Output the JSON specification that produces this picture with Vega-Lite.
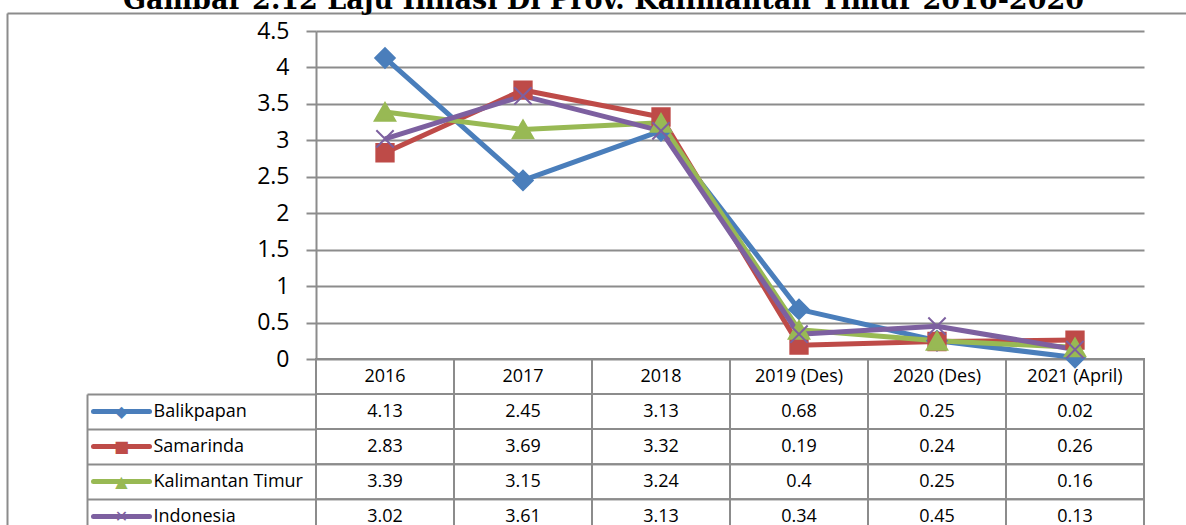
{
  "$schema": "https://vega.github.io/schema/vega-lite/v6.json",
  "width": 1200,
  "height": 533,
  "autosize": {"type": "none"},
  "padding": {"left": 7, "top": 13, "right": -21, "bottom": -21},
  "background": "white",
  "config": {"view": {"stroke": null}},
  "data": {"values": [
    {"series": "Balikpapan", "cat": "2016", "v": 4.13},
    {"series": "Balikpapan", "cat": "2017", "v": 2.45},
    {"series": "Balikpapan", "cat": "2018", "v": 3.13},
    {"series": "Balikpapan", "cat": "2019 (Des)", "v": 0.68},
    {"series": "Balikpapan", "cat": "2020 (Des)", "v": 0.25},
    {"series": "Balikpapan", "cat": "2021 (April)", "v": 0.02},
    {"series": "Samarinda", "cat": "2016", "v": 2.83},
    {"series": "Samarinda", "cat": "2017", "v": 3.69},
    {"series": "Samarinda", "cat": "2018", "v": 3.32},
    {"series": "Samarinda", "cat": "2019 (Des)", "v": 0.19},
    {"series": "Samarinda", "cat": "2020 (Des)", "v": 0.24},
    {"series": "Samarinda", "cat": "2021 (April)", "v": 0.26},
    {"series": "Kalimantan Timur", "cat": "2016", "v": 3.39},
    {"series": "Kalimantan Timur", "cat": "2017", "v": 3.15},
    {"series": "Kalimantan Timur", "cat": "2018", "v": 3.24},
    {"series": "Kalimantan Timur", "cat": "2019 (Des)", "v": 0.4},
    {"series": "Kalimantan Timur", "cat": "2020 (Des)", "v": 0.25},
    {"series": "Kalimantan Timur", "cat": "2021 (April)", "v": 0.16},
    {"series": "Indonesia", "cat": "2016", "v": 3.02},
    {"series": "Indonesia", "cat": "2017", "v": 3.61},
    {"series": "Indonesia", "cat": "2018", "v": 3.13},
    {"series": "Indonesia", "cat": "2019 (Des)", "v": 0.34},
    {"series": "Indonesia", "cat": "2020 (Des)", "v": 0.45},
    {"series": "Indonesia", "cat": "2021 (April)", "v": 0.13}
  ]},
  "layer": [
    {
      "transform": [{"filter": "datum.series === 'Balikpapan'"}],
      "mark": {"type": "rect", "fill": "transparent", "stroke": "#8c8c8c", "strokeWidth": 2},
      "encoding": {
        "x": {"field": "cat", "type": "nominal", "sort": null, "scale": {"type": "band", "domain": ["2016", "2017", "2018", "2019 (Des)", "2020 (Des)", "2021 (April)"], "range": [309, 1137], "paddingInner": 0, "paddingOuter": 0}, "axis": null},
        "y": {"datum": "h", "type": "nominal", "scale": {"type": "band", "domain": ["h"], "range": [346, 381], "paddingInner": 0, "paddingOuter": 0}, "axis": null}
      }
    },
    {
      "transform": [{"filter": "datum.series === 'Balikpapan'"}],
      "mark": {"type": "text", "font": "Open Sans", "fontSize": 18, "color": "#000000"},
      "encoding": {
        "x": {"field": "cat", "type": "nominal", "sort": null, "scale": {"type": "band", "domain": ["2016", "2017", "2018", "2019 (Des)", "2020 (Des)", "2021 (April)"], "range": [309, 1137], "paddingInner": 0, "paddingOuter": 0}, "axis": null},
        "y": {"datum": "h", "type": "nominal", "scale": {"type": "band", "domain": ["h"], "range": [0, 727], "paddingInner": 0, "paddingOuter": 0},
          "axis": {"orient": "left", "offset": 0, "grid": false, "domain": true, "domainColor": "#8c8c8c", "domainWidth": 2, "ticks": true, "tickBand": "extent", "tickSize": -1200, "tickColor": "#8c8c8c", "tickWidth": 2, "labels": false,
            "title": "Gambar 2.12 Laju Inflasi Di Prov. Kalimantan Timur 2016-2020", "titleFont": "DejaVu Serif", "titleFontSize": 27, "titleFontWeight": "bold", "titleColor": "#000000", "titleAngle": 0, "titleX": 596, "titleY": -5, "titleAlign": "center", "titleBaseline": "alphabetic", "titleAnchor": null, "titleLimit": 0}},
        "text": {"field": "cat", "type": "nominal"}
      }
    },
    {
      "mark": {"type": "rect", "fill": "transparent", "stroke": "#8c8c8c", "strokeWidth": 2},
      "encoding": {
        "x": {"field": "cat", "type": "nominal", "sort": null, "scale": {"type": "band", "domain": ["2016", "2017", "2018", "2019 (Des)", "2020 (Des)", "2021 (April)"], "range": [309, 1137], "paddingInner": 0, "paddingOuter": 0}, "axis": null},
        "y": {"field": "series", "type": "nominal", "sort": null, "scale": {"type": "band", "domain": ["Balikpapan", "Samarinda", "Kalimantan Timur", "Indonesia"], "range": [381, 521.4], "paddingInner": 0, "paddingOuter": 0},
          "axis": {"orient": "left", "offset": -80, "title": null, "grid": false, "domain": true, "domainColor": "#8c8c8c", "domainWidth": 2, "ticks": true, "tickBand": "extent", "tickSize": -229, "tickColor": "#8c8c8c", "tickWidth": 2, "labelAlign": "left", "labelBaseline": "middle", "labelPadding": 163, "labelFont": "Open Sans", "labelFontSize": 18, "labelColor": "#000000", "labelOverlap": false, "labelLimit": 0}}
      }
    },
    {
      "mark": {"type": "text", "font": "Open Sans", "fontSize": 18, "color": "#000000"},
      "encoding": {
        "x": {"field": "cat", "type": "nominal", "sort": null, "scale": {"type": "band", "domain": ["2016", "2017", "2018", "2019 (Des)", "2020 (Des)", "2021 (April)"], "range": [309, 1137], "paddingInner": 0, "paddingOuter": 0}, "axis": null},
        "y": {"field": "series", "type": "nominal", "sort": null, "scale": {"type": "band", "domain": ["Balikpapan", "Samarinda", "Kalimantan Timur", "Indonesia"], "range": [381, 521.4], "paddingInner": 0, "paddingOuter": 0},
          "axis": {"orient": "left", "offset": -86, "title": null, "grid": false, "domain": false, "ticks": true, "tickSize": -56, "tickWidth": 5, "tickCap": "round",
            "tickColor": {"condition": [{"test": "datum.value === 'Balikpapan'", "value": "#4A7EBB"}, {"test": "datum.value === 'Samarinda'", "value": "#BE4B48"}, {"test": "datum.value === 'Kalimantan Timur'", "value": "#98B954"}], "value": "#7D60A0"},
            "labelExpr": "datum.value === 'Balikpapan' ? '◆' : datum.value === 'Samarinda' ? '■' : datum.value === 'Kalimantan Timur' ? '▲' : '✕'",
            "labelAlign": "center", "labelBaseline": "middle", "labelPadding": 28, "labelFont": "DejaVu Sans", "labelFontSize": 16, "labelOverlap": false,
            "labelColor": {"condition": [{"test": "datum.value === 'Balikpapan'", "value": "#4A7EBB"}, {"test": "datum.value === 'Samarinda'", "value": "#BE4B48"}, {"test": "datum.value === 'Kalimantan Timur'", "value": "#98B954"}], "value": "#7D60A0"}}},
        "text": {"field": "v", "type": "quantitative"}
      }
    },
    {
      "mark": {"type": "line", "strokeWidth": 5, "strokeJoin": "round"},
      "encoding": {
        "x": {"field": "cat", "type": "nominal", "sort": null, "scale": {"type": "band", "domain": ["2016", "2017", "2018", "2019 (Des)", "2020 (Des)", "2021 (April)"], "range": [309, 1137], "paddingInner": 0, "paddingOuter": 0}, "axis": null},
        "y": {"field": "v", "type": "quantitative", "scale": {"domain": [0, 4.5], "range": [346, 18], "nice": false, "zero": false},
          "axis": {"orient": "left", "offset": -309, "title": null, "values": [0, 0.5, 1, 1.5, 2, 2.5, 3, 3.5, 4, 4.5], "format": "~g", "grid": true, "gridColor": "#8c8c8c", "gridWidth": 2, "gridOpacity": 1, "tickSize": 10, "tickColor": "#8c8c8c", "tickWidth": 2, "domain": true, "domainColor": "#8c8c8c", "domainWidth": 2, "labelPadding": 17, "labelFont": "Open Sans", "labelFontSize": 23, "labelColor": "#000000", "labelFlush": false, "labelOverlap": false}},
        "color": {"field": "series", "type": "nominal", "scale": {"domain": ["Balikpapan", "Samarinda", "Kalimantan Timur", "Indonesia"], "range": ["#4A7EBB", "#BE4B48", "#98B954", "#7D60A0"]}, "legend": null}
      }
    },
    {
      "mark": {"type": "point", "filled": true, "opacity": 1, "strokeWidth": 2},
      "encoding": {
        "x": {"field": "cat", "type": "nominal", "sort": null, "scale": {"type": "band", "domain": ["2016", "2017", "2018", "2019 (Des)", "2020 (Des)", "2021 (April)"], "range": [309, 1137], "paddingInner": 0, "paddingOuter": 0}, "axis": null},
        "y": {"field": "v", "type": "quantitative", "scale": {"domain": [0, 4.5], "range": [346, 18], "nice": false, "zero": false}, "axis": null},
        "color": {"field": "series", "type": "nominal", "scale": {"domain": ["Balikpapan", "Samarinda", "Kalimantan Timur", "Indonesia"], "range": ["#4A7EBB", "#BE4B48", "#98B954", "#7D60A0"]}, "legend": null},
        "stroke": {"field": "series", "type": "nominal", "scale": {"domain": ["Balikpapan", "Samarinda", "Kalimantan Timur", "Indonesia"], "range": ["#4A7EBB", "#BE4B48", "#98B954", "#7D60A0"]}, "legend": null},
        "shape": {"field": "series", "type": "nominal", "scale": {"domain": ["Balikpapan", "Samarinda", "Kalimantan Timur", "Indonesia"], "range": ["diamond", "square", "triangle-up", "M-1,-1L1,1M-1,1L1,-1"]}, "legend": null},
        "size": {"field": "series", "type": "nominal", "scale": {"type": "ordinal", "domain": ["Balikpapan", "Samarinda", "Kalimantan Timur", "Indonesia"], "range": [380, 300, 420, 300]}, "legend": null}
      }
    }
  ],
  "resolve": {"scale": {"y": "independent"}, "axis": {"y": "independent"}}
}
